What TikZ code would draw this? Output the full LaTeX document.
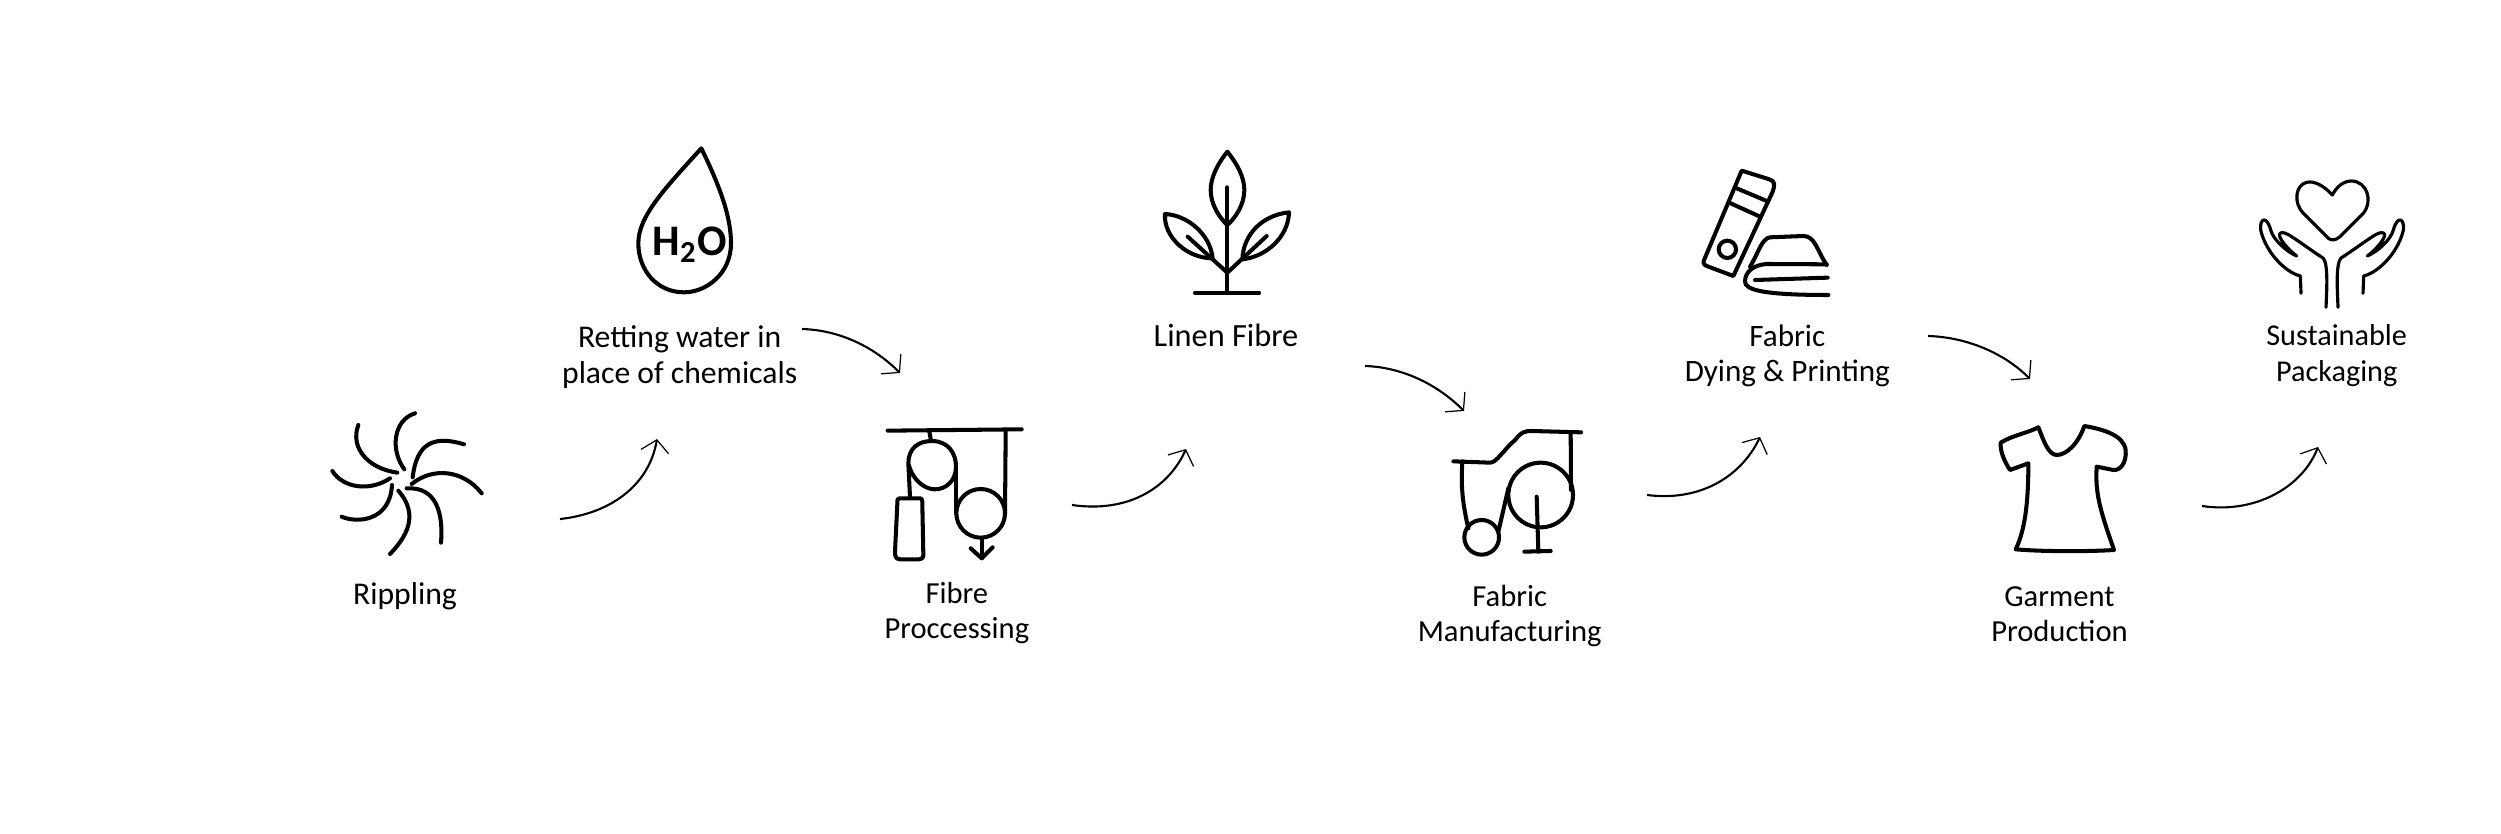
\documentclass[tikz,border=0pt]{standalone}
\usepackage{fontspec}
\setmainfont{Carlito}
\usetikzlibrary{arrows.meta}
\usetikzlibrary{positioning}
\tikzset{stage/.style={align=center, inner sep=0pt, font=\fontsize{#1}{10.1}\selectfont}, stage/.default=9}
\tikzstyle{formula} = [inner sep=0pt, font=\fontsize{12.4}{14}\selectfont\bfseries]
\tikzstyle{icon} = [line width=1.15pt, line cap=round, line join=round]
\tikzstyle{thinicon} = [line width=0.9pt, line cap=round, line join=round]
\tikzstyle{flow} = [line width=0.6pt, -{Straight Barb[length=1.2mm,width=2.8mm,line width=0.35pt]}]

\begin{document}
\begin{tikzpicture}[x=0.01cm, y=-0.01cm, on grid]
   \useasboundingbox (0,0) rectangle (2501,834);
   % Place nodes
   \node [stage] (1) at (405,596) {Rippling};
   \node [stage, above right = 2.385cm and 2.745cm of 1] (2) {Retting water in \\ place of chemicals};
   \node [stage=8.7, below right = 2.555cm and 2.77cm of 2] (3) {Fibre \\ Proccessing};
   \node [stage=9.2, above right = 2.77cm and 2.69cm of 3] (4) {Linen Fibre};
   \node [stage=8.7, below right = 2.80cm and 2.835cm of 4] (5) {Fabric \\ Manufacturing};
   \node [stage=8.85, above right = 2.60cm and 2.775cm of 5] (6) {Fabric \\ Dying \& Printing};
   \node [stage=8.7, below right = 2.58cm and 2.72cm of 6] (7) {Garment \\ Production};
   \node [stage=8.6, above right = 2.58cm and 2.77cm of 7] (8) {Sustainable \\ Packaging};
   \node [formula, above right = 1.125cm and 0.10cm of 2] (water) {H\textsubscript{2}O};

   % Free ends of the curved arrows
   \coordinate (1-out) at (560,519);   \coordinate (2-in) at (657,439);
   \coordinate (2-out) at (802,329);   \coordinate (3-in) at (900,373);
   \coordinate (3-out) at (1072,505);  \coordinate (4-in) at (1186,449);
   \coordinate (4-out) at (1365,366);  \coordinate (5-in) at (1464,411);
   \coordinate (5-out) at (1647,495);  \coordinate (6-in) at (1760,437);
   \coordinate (6-out) at (1928,336);  \coordinate (7-in) at (2030,379);
   \coordinate (7-out) at (2202,506);  \coordinate (8-in) at (2318,447);

   \draw[flow] (1-out) .. controls +(48,-5) and +(-8,48) .. (2-in);
   \draw[flow] (2-out) .. controls +(34,1) and +(-29,-29) .. (3-in);
   \draw[flow] (3-out) .. controls +(55,8) and +(-18,40) .. (4-in);
   \draw[flow] (4-out) .. controls +(34,1) and +(-29,-29) .. (5-in);
   \draw[flow] (5-out) .. controls +(55,7) and +(-18,38) .. (6-in);
   \draw[flow] (6-out) .. controls +(34,1) and +(-29,-29) .. (7-in);
   \draw[flow] (7-out) .. controls +(52,8) and +(-16,41) .. (8-in);

   % Rippling wheel
   \begin{scope}[shift={(300,380)}, scale=1/3, icon]
      \draw (345,100) .. controls (280,120) and (270,210) .. (313,268);
      \draw (175,135) .. controls (150,200) and (200,265) .. (292,278);
      \draw (492,193) .. controls (400,165) and (350,190) .. (338,292);
      \draw (97,273) .. controls (130,325) and (210,335) .. (270,295);
      \draw (545,340) .. controls (490,270) and (400,260) .. (335,312);
      \draw (125,410) .. controls (170,430) and (270,425) .. (276,315);
      \draw (423,488) .. controls (430,400) and (410,320) .. (320,325);
      \draw (270,522) .. controls (340,450) and (345,390) .. (295,332);
   \end{scope}

   % Water drop
   \begin{scope}[shift={(540,120)}, scale=1/3, icon]
      \draw (484,85) .. controls (530,180) and (573,280) .. (573,370)
         .. controls (573,460) and (500,517) .. (432,517)
         .. controls (350,517) and (295,450) .. (295,370)
         .. controls (295,290) and (370,210) .. (484,85) -- cycle;
   \end{scope}

   % Rollers with weight
   \begin{scope}[shift={(850,400)}, scale=1/3, icon]
      \draw (113,92) -- (515,88);
      \draw (238,95) -- (243,122);
      \draw (180,292) -- (175,190) .. controls (175,145) and (205,123) .. (245,123)
         .. controls (295,123) and (318,160) .. (318,200)
         .. controls (318,245) and (285,268) .. (255,268)
         .. controls (220,268) and (185,235) .. (175,190);
      \draw (318,200) -- (318,340);
      \draw (392,340) circle [radius=73];
      \draw (467,95) -- (465,340);
      \draw (395,415) -- (395,475);
      \draw (362,445) -- (395,475) -- (428,442);
      \draw (148,295) -- (210,295) .. controls (218,295) and (217,305) .. (217,315)
         -- (220,465) .. controls (220,478) and (210,478) .. (200,478)
         -- (150,478) .. controls (135,478) and (135,465) .. (135,455)
         -- (142,310) .. controls (142,300) and (142,295) .. (148,295) -- cycle;
   \end{scope}

   % Plant
   \begin{scope}[shift={(1120,130)}, scale=1/3, icon]
      \draw (322,65) .. controls (290,105) and (272,145) .. (272,180)
         .. controls (272,225) and (300,265) .. (322,285)
         .. controls (345,265) and (373,225) .. (373,180)
         .. controls (373,140) and (350,100) .. (322,65) -- cycle;
      \draw (322,172) -- (322,488);
      \draw (225,488) -- (417,488);
      \draw (135,252) .. controls (200,255) and (270,310) .. (278,385)
         .. controls (200,385) and (130,320) .. (135,252) -- cycle;
      \draw (322,428) -- (203,320);
      \draw (507,247) .. controls (505,320) and (440,380) .. (367,388)
         .. controls (370,310) and (430,255) .. (507,247) -- cycle;
      \draw (322,428) -- (440,318);
   \end{scope}

   % Loom rollers
   \begin{scope}[shift={(1400,400)}, scale=1/3, icon]
      \draw (160,184) -- (270,188) .. controls (290,188) and (310,150) .. (345,120)
         .. controls (365,95) and (375,93) .. (395,93) -- (543,97);
      \draw (187,184) .. controls (183,250) and (185,300) .. (205,385);
      \draw (245,412) circle [radius=52];
      \draw (295,395) -- (325,265);
      \draw (422,285) circle [radius=97];
      \draw (512,97) -- (513,270);
      \draw (410,290) -- (415,455);
      \draw (373,455) -- (452,453);
   \end{scope}

   % Colour swatch and folded cloth
   \begin{scope}[shift={(1660,150)}, scale=1/3, icon]
      \draw (245,62) -- (328,88) .. controls (345,93) and (345,105) .. (338,125)
         -- (220,378) -- (140,348) .. controls (130,343) and (128,338) .. (133,328) -- cycle;
      \draw (230,115) -- (325,155);
      \draw (212,160) -- (300,200);
      \draw (202,298) circle [radius=26];
      \draw (500,345) .. controls (470,300) and (465,258) .. (430,258)
         -- (330,262) .. controls (305,265) and (295,310) .. (270,350);
      \draw (500,343) -- (320,342) .. controls (280,345) and (255,365) .. (255,395)
         .. controls (255,420) and (310,435) .. (505,435);
      \draw (285,390) -- (503,383);
   \end{scope}

   % Shirt
   \begin{scope}[shift={(1960,400)}, scale=1/3, icon]
      \draw (235,82) .. controls (250,120) and (265,165) .. (290,165)
         .. controls (320,165) and (355,130) .. (373,78)
         .. controls (430,88) and (490,105) .. (497,150)
         .. controls (500,190) and (480,212) .. (460,210)
         -- (410,200) .. controls (405,280) and (420,330) .. (462,450)
         .. controls (380,455) and (250,455) .. (167,448)
         .. controls (200,380) and (205,280) .. (205,190)
         -- (150,210) .. controls (130,180) and (120,150) .. (122,128)
         .. controls (160,105) and (200,100) .. (235,82) -- cycle;
   \end{scope}

   % Heart in two hands
   \begin{scope}[shift={(2200,150)}, scale=1/3, thinicon]
      \draw (397,135) .. controls (370,105) and (340,92) .. (320,97)
         .. controls (285,105) and (280,160) .. (310,190) -- (385,265)
         .. controls (395,272) and (405,272) .. (420,260) -- (490,190)
         .. controls (520,150) and (500,95) .. (455,93)
         .. controls (430,93) and (410,110) .. (397,135) -- cycle;
      \foreach \side/\flip in {0/1, 792/-1} {
         \begin{scope}[shift={(\side,0)}, xscale=\flip]
            \draw (303,430) -- (301,378) .. controls (250,365) and (195,300) .. (182,240)
               .. controls (178,205) and (200,195) .. (212,240)
               .. controls (220,270) and (260,305) .. (290,318)
               .. controls (265,300) and (230,260) .. (240,250)
               .. controls (255,240) and (280,265) .. (370,325)
               .. controls (385,345) and (380,420) .. (378,472);
         \end{scope}
      }
   \end{scope}
\end{tikzpicture}
\end{document}
